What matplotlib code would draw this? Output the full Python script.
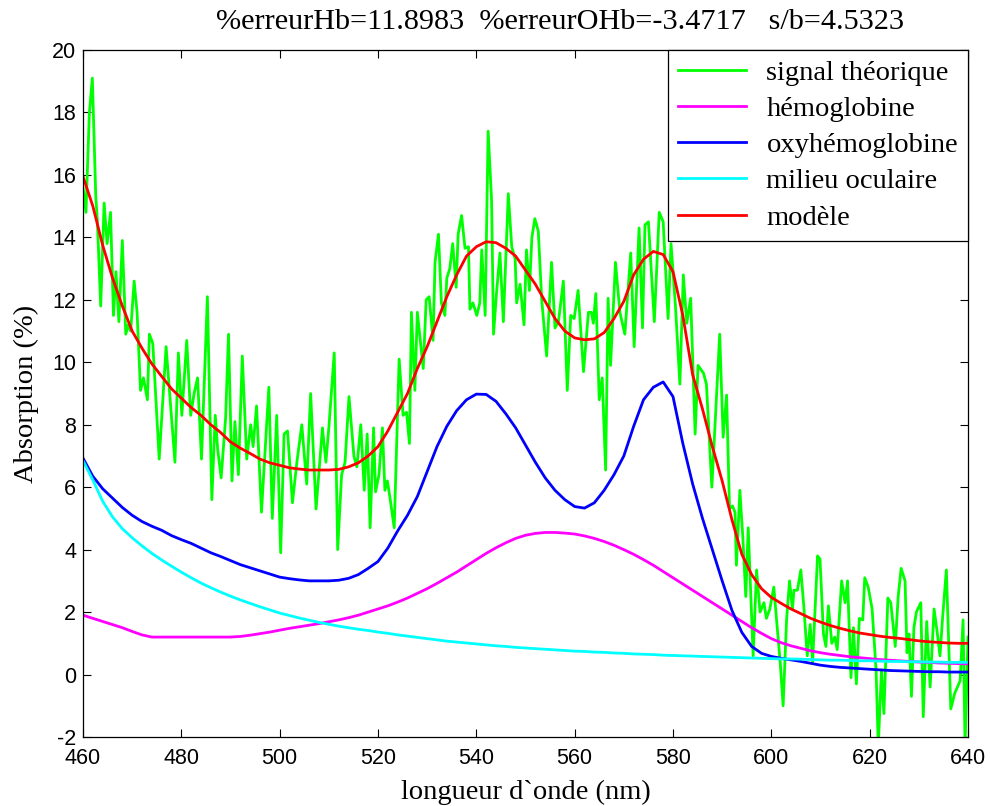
import numpy as np
import matplotlib
matplotlib.use("Agg")
import matplotlib.pyplot as plt

plt.rcParams["axes.unicode_minus"] = False

# ---------------- data ----------------
# noisy measured signal (vertices read from the chart)
sig_nm = [460.0, 460.6, 461.3, 461.9, 462.6, 462.9, 463.6, 464.3, 464.9, 465.6, 466.2, 466.7, 467.3, 468.0,
          468.7, 469.2, 469.7, 470.4, 471.0, 471.7, 472.3, 473.1, 473.5, 474.2, 475.5, 476.9, 478.7, 479.4,
          480.1, 481.1, 481.9, 482.6, 483.3, 484.1, 485.3, 486.2, 486.9, 487.4, 488.1, 489.0, 489.6, 490.3,
          490.9, 491.6, 492.4, 493.3, 494.1, 494.6, 495.3, 496.3, 497.8, 498.5, 499.4, 500.2, 500.9, 501.6,
          502.6, 503.5, 504.5, 505.5, 506.3, 507.4, 508.7, 509.4, 510.0, 511.1, 511.8, 512.6, 513.3, 514.1,
          515.1, 515.7, 516.5, 517.2, 517.8, 518.4, 519.1, 519.5, 520.2, 520.9, 521.4, 521.9, 522.4, 523.3,
          524.3, 525.1, 525.8, 526.4, 526.8, 527.5, 528.0, 529.2, 529.8, 530.4, 531.2, 531.6, 532.3, 532.9,
          533.6, 534.0, 534.6, 535.2, 535.9, 536.3, 537.0, 537.7, 538.4, 538.7, 539.3, 540.1, 540.7, 541.1,
          541.8, 542.4, 543.1, 543.5, 544.1, 544.8, 545.5, 546.5, 547.2, 547.9, 548.2, 548.9, 549.7, 550.2,
          550.8, 551.3, 551.9, 552.6, 553.3, 554.3, 555.3, 556.0, 556.7, 557.7, 558.5, 559.2, 559.9, 560.7,
          561.8, 562.8, 563.4, 563.8, 564.3, 565.0, 565.6, 566.3, 566.8, 567.3, 568.3, 569.2, 570.2, 571.4,
          572.1, 573.1, 573.8, 574.3, 575.0, 576.2, 577.2, 578.0, 579.0, 579.6, 580.5, 581.4, 582.1, 582.8,
          583.6, 584.5, 585.1, 586.2, 586.8, 587.9, 589.5, 590.2, 590.9, 591.5, 592.1, 592.6, 592.9, 593.6,
          594.2, 594.8, 595.3, 596.3, 597.0, 597.7, 598.5, 599.0, 599.7, 600.5, 601.8, 602.4, 603.1, 603.7,
          604.3, 604.6, 605.3, 606.0, 606.6, 607.3, 607.9, 608.4, 609.4, 609.9, 610.6, 611.1, 611.6, 612.3,
          612.9, 613.4, 614.3, 615.0, 615.5, 616.2, 616.7, 617.3, 617.9, 618.6, 619.0, 619.7, 620.5, 621.3,
          621.75, 622.4, 622.9, 623.7, 624.3, 625.2, 625.8, 626.4, 627.2, 627.6, 628.0, 628.5, 629.0, 629.5,
          630.4, 630.9, 631.6, 632.3, 633.1, 633.7, 634.3, 634.8, 635.6, 636.5, 637.3, 638.4, 639.0, 639.4,
          640.0]
sig_val = [15.6, 14.8, 18.0, 19.1, 15.3, 14.6, 11.8, 15.1, 13.8, 14.8, 11.5, 12.9, 11.3, 13.9,
           10.9, 11.2, 11.0, 12.6, 11.6, 9.1, 9.5, 8.8, 10.9, 10.6, 6.9, 10.5, 6.8, 10.3,
           8.3, 10.7, 8.3, 9.0, 9.5, 6.9, 12.1, 5.6, 8.3, 7.2, 6.3, 8.2, 10.9, 6.2,
           8.1, 6.4, 10.2, 6.9, 8.0, 7.3, 8.6, 5.2, 9.2, 5.0, 8.3, 3.9, 7.7, 7.8,
           5.5, 6.8, 8.0, 6.1, 9.0, 5.3, 7.9, 6.8, 7.9, 10.3, 4.0, 6.4, 6.8, 8.9,
           7.0, 6.65, 8.0, 5.9, 7.7, 4.7, 7.9, 5.85, 6.4, 7.9, 5.9, 6.2, 5.7, 4.7,
           10.1, 8.3, 8.4, 7.4, 11.6, 9.1, 11.6, 9.8, 12.0, 12.1, 10.7, 13.2, 14.1, 11.9,
           11.5, 12.7, 13.0, 13.8, 12.4, 14.1, 14.7, 13.65, 13.7, 11.7, 11.9, 11.5, 11.9, 13.6,
           11.5, 17.4, 15.2, 10.9, 12.2, 13.5, 11.3, 15.4, 13.7, 13.3, 11.9, 12.5, 11.2, 13.6,
           12.3, 14.0, 14.6, 14.2, 12.0, 10.2, 13.2, 11.1, 11.3, 12.6, 9.1, 11.5, 11.4, 12.3,
           9.7, 11.6, 11.6, 11.25, 12.2, 8.8, 9.5, 6.55, 12.05, 9.9, 13.2, 11.6, 10.9, 13.5,
           10.5, 14.3, 11.1, 14.4, 14.5, 11.3, 14.8, 14.5, 11.4, 13.8, 11.8, 9.3, 12.8, 11.25,
           12.05, 7.7, 9.9, 9.65, 9.3, 6.0, 10.9, 7.6, 8.95, 5.3, 5.4, 5.2, 3.5, 5.9,
           4.4, 2.5, 4.7, 0.6, 3.35, 2.0, 2.3, 1.8, 2.1, 2.8, 0.4, -1.0, 1.75, 3.0,
           2.1, 2.7, 2.7, 3.35, 2.2, 0.6, 1.6, 0.4, 3.8, 3.7, 1.3, 0.9, 2.2, 1.0,
           1.2, 0.8, 3.0, 2.3, 3.0, -0.1, 1.5, -0.3, 1.8, 1.75, 3.1, 2.8, 2.1, 0.15,
           -2.3, 0.15, -1.25, 2.45, 2.3, 0.9, 2.5, 3.4, 3.0, 0.7, 1.3, -0.7, 1.5, 2.0,
           2.3, -1.35, 1.7, -0.4, 2.1, 1.4, 0.6, 1.75, 3.35, -1.1, -0.6, -0.2, 1.75, -2.3,
           1.2]

# smooth components on a 2 nm grid
grid2 = np.arange(460, 641, 2)
hb = [1.9, 1.8, 1.7, 1.6, 1.5, 1.38, 1.27, 1.2, 1.2, 1.2, 1.2, 1.2, 1.2, 1.2, 1.2, 1.2,
      1.22, 1.26, 1.31, 1.36, 1.42, 1.48, 1.53, 1.58, 1.63, 1.69, 1.75, 1.82, 1.9, 2.0, 2.1, 2.2,
      2.32, 2.45, 2.6, 2.75, 2.92, 3.1, 3.28, 3.48, 3.68, 3.88, 4.06, 4.22, 4.36, 4.46, 4.52,
      4.55, 4.55, 4.53, 4.5, 4.44, 4.36, 4.26, 4.14, 4.0, 3.85, 3.68, 3.5, 3.3, 3.1, 2.9, 2.7,
      2.5, 2.3, 2.1, 1.9, 1.7, 1.5, 1.32, 1.15, 1.02, 0.92, 0.84, 0.76, 0.7, 0.65, 0.61, 0.57,
      0.54, 0.51, 0.48, 0.46, 0.44, 0.42, 0.4, 0.39, 0.37, 0.36, 0.35, 0.34]
ohb = [6.93, 6.35, 5.95, 5.65, 5.35, 5.1, 4.9, 4.75, 4.62, 4.45, 4.32, 4.2, 4.05, 3.9, 3.78, 3.65,
       3.52, 3.42, 3.32, 3.22, 3.12, 3.07, 3.03, 3.0, 3.0, 3.0, 3.02, 3.08, 3.2, 3.4, 3.62, 4.05,
       4.6, 5.1, 5.7, 6.5, 7.3, 7.95, 8.45, 8.8, 8.98, 8.97, 8.75, 8.35, 7.9, 7.35, 6.8, 6.3, 5.9,
       5.6, 5.38, 5.33, 5.5, 5.9, 6.4, 7.0, 7.95, 8.8, 9.2, 9.37, 8.9, 7.4, 6.1, 5.0, 4.0, 3.0, 2.05,
       1.35, 0.9, 0.68, 0.58, 0.52, 0.47, 0.42, 0.36, 0.3, 0.26, 0.23, 0.21, 0.19, 0.17, 0.15, 0.13,
       0.12, 0.11, 0.1, 0.09, 0.09, 0.08, 0.08, 0.08]
milieu = [6.85, 6.23, 5.55, 5.05, 4.67, 4.38, 4.12, 3.88, 3.67, 3.47, 3.28, 3.1, 2.93, 2.78, 2.64,
          2.51, 2.39, 2.28, 2.17, 2.07, 1.97, 1.89, 1.81, 1.74, 1.67, 1.61, 1.55, 1.5, 1.45, 1.41,
          1.36, 1.32, 1.27, 1.23, 1.19, 1.15, 1.11, 1.07, 1.04, 1.01, 0.98, 0.95, 0.92, 0.9, 0.87,
          0.85, 0.83, 0.81, 0.79, 0.77, 0.75, 0.74, 0.72, 0.71, 0.69, 0.68, 0.66, 0.65, 0.64, 0.62,
          0.61, 0.6, 0.59, 0.58, 0.57, 0.56, 0.55, 0.54, 0.53, 0.52, 0.51, 0.5, 0.5, 0.49, 0.48,
          0.47, 0.46, 0.46, 0.45, 0.44, 0.44, 0.43, 0.42, 0.42, 0.41, 0.41, 0.4, 0.4, 0.39, 0.39, 0.39]
modele = [15.95, 15.0, 13.75, 12.7, 11.8, 11.0, 10.45, 9.95, 9.55, 9.15, 8.85, 8.55, 8.3, 8.0, 7.75,
          7.45, 7.25, 7.08, 6.9, 6.78, 6.7, 6.62, 6.58, 6.55, 6.55, 6.55, 6.57, 6.65, 6.78, 7.0, 7.3,
          7.8, 8.4, 9.0, 9.8, 10.5, 11.3, 12.1, 12.8, 13.4, 13.7, 13.86, 13.83, 13.65, 13.4, 12.95,
          12.5, 11.95, 11.4, 11.0, 10.78, 10.72, 10.75, 10.95, 11.4, 11.95, 12.8, 13.3, 13.55, 13.45,
          12.9, 11.5, 9.6, 8.5, 7.3, 6.2, 4.95, 3.85, 3.2, 2.75, 2.47, 2.28, 2.1, 1.95, 1.8, 1.68,
          1.57, 1.48, 1.4, 1.33, 1.28, 1.23, 1.19, 1.16, 1.12, 1.08, 1.05, 1.03, 1.01, 1.0, 1.0]

labels = ["signal théorique", "hémoglobine", "oxyhémoglobine", "milieu oculaire", "modèle"]
title = "%erreurHb=11.8983  %erreurOHb=-3.4717   s/b=4.5323"
xticks = list(range(460, 641, 20))
yticks = list(range(-2, 21, 2))

# ---------------- plot ----------------
fig = plt.figure(figsize=(9.9, 8.06), dpi=100)
ax = fig.add_axes([83 / 990, 1 - 737 / 806, (968 - 83) / 990, (737 - 50) / 806])

lw = 2.0
ax.plot(sig_nm, sig_val, color=(0, 1, 0), lw=lw, label=labels[0])
ax.plot(grid2, hb, color=(1, 0, 1), lw=lw, label=labels[1])
ax.plot(grid2, ohb, color=(0, 0, 1), lw=lw, label=labels[2])
ax.plot(grid2, milieu, color=(0, 1, 1), lw=lw, label=labels[3])
ax.plot(grid2, modele, color=(1, 0, 0), lw=lw, label=labels[4])

ax.set_xlim(460, 640)
ax.set_ylim(-2, 20)
ax.set_xticks(xticks)
ax.set_yticks(yticks)
ax.tick_params(direction="in", length=6, width=0.8, top=True, right=True,
               labelsize=15.5)
ax.tick_params(axis="x", pad=8)
ax.tick_params(axis="y", pad=5)
for lab in ax.get_xticklabels() + ax.get_yticklabels():
    lab.set_family("Liberation Sans")
for s in ax.spines.values():
    s.set_linewidth(0.9)

serif = "Liberation Serif"
ax.set_xlabel("longueur d`onde (nm)", family=serif, fontsize=20.5, labelpad=8)
ax.set_ylabel("Absorption (%)", family=serif, fontsize=20.5, labelpad=9)
ax.set_title(title, family=serif, fontsize=21.8, pad=15, x=0.539)

leg = ax.legend(loc="upper right", bbox_to_anchor=(1, 1), borderaxespad=0,
                prop={"family": serif, "size": 20.5}, fancybox=False, framealpha=1,
                edgecolor="black", handlelength=2.4, handletextpad=0.7,
                labelspacing=0.36, borderpad=0.35)
leg.get_frame().set_linewidth(0.9)

fig.savefig("out.png", dpi=100)
